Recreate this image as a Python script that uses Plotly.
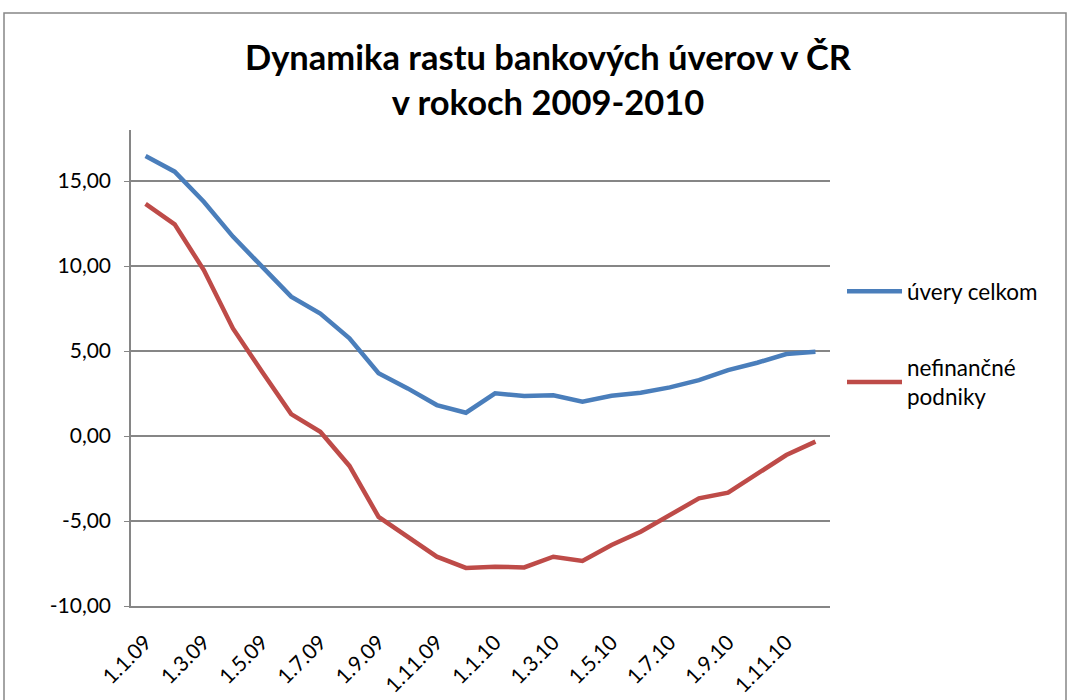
import plotly.graph_objects as go

months = [f"1.{m}.{y}" for y in ("09", "10") for m in range(1, 13)]
tick_labels = months[::2]

uvery_celkom = [16.47, 15.55, 13.78, 11.73, 9.96, 8.20, 7.20, 5.75, 3.69, 2.80, 1.82, 1.37,
                2.51, 2.35, 2.39, 2.02, 2.37, 2.55, 2.86, 3.29, 3.88, 4.31, 4.82, 4.96]
nefinancne = [13.65, 12.45, 9.76, 6.33, 3.78, 1.29, 0.25, -1.76, -4.76, -5.90, -7.10, -7.76,
              -7.69, -7.73, -7.10, -7.35, -6.41, -5.63, -4.65, -3.67, -3.33, -2.20, -1.12, -0.33]

series_names = ["úvery celkom", "nefinančné<br>podniky"]
colors = ["#4A7EBB", "#BE4B48"]

FONT = "Lato"

fig = go.Figure()
for i, (name, vals, col) in enumerate(zip(series_names, [uvery_celkom, nefinancne], colors)):
    fig.add_trace(go.Scatter(x=months, y=vals, mode="lines", name=name, legendgroup=f"g{i}",
                             line=dict(color=col, width=4.5)))

L, T, W, H = 131, 130, 699, 476
fig.update_layout(
    width=1070, height=700,
    margin=dict(l=L, r=1070 - L - W, t=T, b=700 - T - H, pad=0, autoexpand=False),
    paper_bgcolor="white", plot_bgcolor="white",
    font=dict(family=FONT, color="black"),
    title=dict(text="<b>Dynamika rastu bankových úverov v ČR<br>v rokoch 2009-2010</b>",
               x=548 / 1070, xanchor="center", y=1 - 70 / 700, yanchor="middle",
               font=dict(size=34.5, family=FONT, color="black")),
    showlegend=True,
    legend=dict(x=(842 - L) / W, y=(606 - 270) / H, xanchor="left", yanchor="top",
                font=dict(size=22.5, family=FONT, color="black"),
                tracegroupgap=44, itemwidth=55, bgcolor="rgba(0,0,0,0)"),
    xaxis=dict(type="category", categoryorder="array", categoryarray=months,
               tickmode="array", tickvals=tick_labels, ticktext=tick_labels,
               tickangle=-45, tickfont=dict(size=21, family=FONT, color="black"),
               showgrid=False, showline=True, linecolor="#868686", linewidth=1.5,
               ticks="", ticklabelstandoff=14, range=[-0.5, 23.5], zeroline=False,
               automargin=False),
    yaxis=dict(range=[-10, 18], tickmode="array",
               tickvals=[-10, -5, 0, 5, 10, 15],
               ticktext=["-10,00", "-5,00", "0,00", "5,00", "10,00", "15,00"],
               tickfont=dict(size=21, family=FONT, color="black"),
               showgrid=True, gridcolor="#868686", gridwidth=1.5,
               showline=True, linecolor="#868686", linewidth=1.5,
               ticks="outside", ticklen=5, tickcolor="#868686", ticklabelstandoff=9,
               zeroline=False, automargin=False),
)

fig.add_shape(type="rect", xref="paper", yref="paper",
              x0=(4 - L) / W, x1=(1066 - L) / W,
              y0=(T + H - 720) / H, y1=(T + H - 13) / H,
              line=dict(color="#868686", width=1.5), fillcolor="rgba(0,0,0,0)", layer="below")

fig.write_html("out.html", config={"displayModeBar": False},
               post_script="document.body.style.margin='0px';document.body.style.overflow='hidden';")
